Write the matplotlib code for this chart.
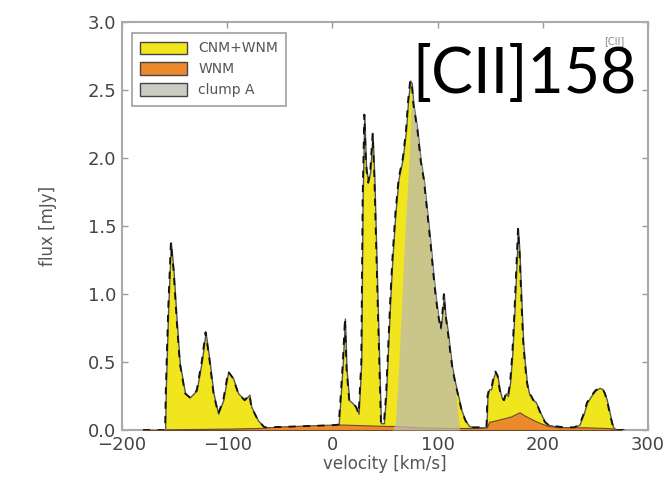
import matplotlib
matplotlib.use('Agg')
import matplotlib.pyplot as plt
import numpy as np

# total CNM+WNM [CII] profile (velocity km/s, flux mJy)
v_tot = [-180, -159, -158.3, -156, -153.5, -151, -148, -145, -140, -135.6, -129,
         -124, -120.5, -116.7, -113, -108.5, -103.7, -99, -94.3, -89.5, -83.5,
         -78.8, -77, -70.6, -64.5, -60, -40, -20, 0, 6,
         7.5, 10, 12, 13.5, 16, 19, 22.5, 25, 27.5, 28.8, 30.4, 32, 34, 36,
         38.3, 40, 43, 46.2, 49, 51, 53, 55, 57, 60, 63, 67, 70, 72, 74, 75.5,
         77, 79, 81, 84, 87, 90, 93.5, 96, 98.3, 100.5, 103, 104.5, 106, 107.5,
         109.5, 112, 114, 117, 120, 123, 126.5, 130, 134, 140, 146.5,
         147.5, 149, 151, 153, 155, 157, 159, 161, 163, 165, 167, 169, 171, 173,
         175, 176.5, 178, 180, 181.5, 183, 185, 187, 189, 191, 193, 195, 197,
         199.5, 202, 205, 210, 220, 230, 235, 239, 242, 246, 250, 254, 257, 259,
         261, 263, 265, 267, 270, 280]
f_tot = [0.0, 0.0, 0.3, 0.9, 1.38, 1.18, 0.81, 0.49, 0.27, 0.24, 0.29,
         0.51, 0.72, 0.51, 0.27, 0.12, 0.22, 0.43, 0.38, 0.27, 0.22,
         0.26, 0.17, 0.07, 0.02, 0.02, 0.025, 0.03, 0.035, 0.04,
         0.2, 0.5, 0.82, 0.45, 0.22, 0.2, 0.17, 0.12, 0.5, 1.7, 2.32, 1.95, 1.82, 1.9,
         2.18, 1.85, 0.96, 0.05, 0.05, 0.25, 0.6, 0.95, 1.25, 1.6, 1.85, 2.0, 2.2, 2.42, 2.57, 2.55,
         2.4, 2.3, 2.2, 1.98, 1.84, 1.62, 1.36, 1.15, 0.98, 0.85, 0.74, 0.85, 1.0, 0.85,
         0.74, 0.58, 0.46, 0.34, 0.24, 0.14, 0.07, 0.03, 0.02, 0.02, 0.02,
         0.25, 0.3, 0.3, 0.38, 0.43, 0.4, 0.3, 0.24, 0.22, 0.27, 0.25, 0.35, 0.55, 0.85,
         1.2, 1.48, 1.3, 0.9, 0.64, 0.5, 0.35, 0.27, 0.25, 0.22, 0.21, 0.18, 0.14,
         0.1, 0.06, 0.04, 0.03, 0.02, 0.02, 0.04, 0.12, 0.2, 0.25, 0.29, 0.31, 0.3, 0.27,
         0.22, 0.15, 0.08, 0.02, 0.0, 0.0]

# WNM contribution
v_wnm = [-180, -160, -158, -100, -70, -50, -20, 0, 10, 30, 50, 60, 80, 110, 140,
         147, 149, 155, 160, 165, 170, 175, 178, 182, 187, 192, 198, 205, 215,
         240, 260, 268, 275]
f_wnm = [0.0, 0.0, 0.005, 0.01, 0.015, 0.025, 0.035, 0.04, 0.04, 0.035, 0.03, 0.03,
         0.02, 0.015, 0.015, 0.02, 0.06, 0.07, 0.08, 0.09, 0.1, 0.12, 0.13, 0.11,
         0.09, 0.07, 0.05, 0.03, 0.02, 0.02, 0.015, 0.01, 0.0]

# clump A
v_clump = [57, 60, 63, 66, 69, 72, 74, 75.5, 77, 79, 81, 84, 87, 90, 93.5, 96,
           98.3, 100.5, 103, 104.5, 106, 107.5, 109.5, 112, 114, 117, 119, 121]
f_clump = [0.0, 0.05, 0.45, 0.95, 1.45, 1.85, 2.2, 2.5, 2.4, 2.3, 2.2, 1.98, 1.84,
           1.62, 1.36, 1.15, 0.98, 0.85, 0.74, 0.8, 0.9, 0.8, 0.72, 0.56, 0.44,
           0.3, 0.15, 0.0]

c_yellow = '#f1e51e'
c_orange = '#eb8a2c'
c_gray = '#bdbcaf'
c_tick = '#444444'

fig = plt.figure(figsize=(6.7, 4.92), dpi=100)
ax = fig.add_axes([0.182, 0.126, 0.785, 0.829])

ax.fill_between(v_tot, f_tot, color=c_yellow, edgecolor='#555555', lw=1.0,
                label='CNM+WNM', zorder=2)
ax.fill_between(v_wnm, f_wnm, color=c_orange, edgecolor='#6b4a2a', lw=0.8,
                label='WNM', zorder=3)
ax.fill_between(v_clump, f_clump, color=c_gray, alpha=0.75, lw=0,
                label='clump A', zorder=4)
ax.plot(v_tot, f_tot, color='#111111', lw=1.3, ls=(0, (4, 4)), zorder=5)

ax.set_xlim(-200, 300)
ax.set_ylim(0, 3.0)
ax.set_xticks([-200, -100, 0, 100, 200, 300])
ax.set_xticklabels(['\u2212200', '\u2212100', '0', '100', '200', '300'])
ax.set_yticks([0, 0.5, 1.0, 1.5, 2.0, 2.5, 3.0])
ax.set_yticklabels(['0.0', '0.5', '1.0', '1.5', '2.0', '2.5', '3.0'])
ax.tick_params(direction='in', top=True, right=True, length=4, width=1,
               color='#999999', labelsize=13, labelcolor=c_tick, pad=4)
for s in ax.spines.values():
    s.set_color('#aaaaaa')
    s.set_linewidth(1.5)

ax.set_xlabel('velocity [km/s]', fontsize=12, color='#555555', labelpad=1)
ax.set_ylabel('flux [mJy]', fontsize=12, color='#555555', labelpad=22)

leg = ax.legend(loc='upper left', fontsize=10, frameon=True, fancybox=False,
                handlelength=3.4, handleheight=1.0, borderpad=0.6,
                labelspacing=0.5, bbox_to_anchor=(0.005, 0.99))
leg.get_frame().set_edgecolor('#888888')
leg.get_frame().set_linewidth(1.2)
for t in leg.get_texts():
    t.set_color('#555555')
for h in leg.legend_handles:
    h.set_edgecolor('#444444')
    h.set_linewidth(1.0)

ax.text(0.955, 0.965, '[CII]', transform=ax.transAxes, ha='right', va='top',
        fontsize=7, color='#888888', zorder=6)
fig.text(0.95, 0.81, '[CII]158', ha='right', va='baseline', fontsize=45,
         family='Lato', color='black', zorder=10)

plt.savefig('out.png', dpi=100)
